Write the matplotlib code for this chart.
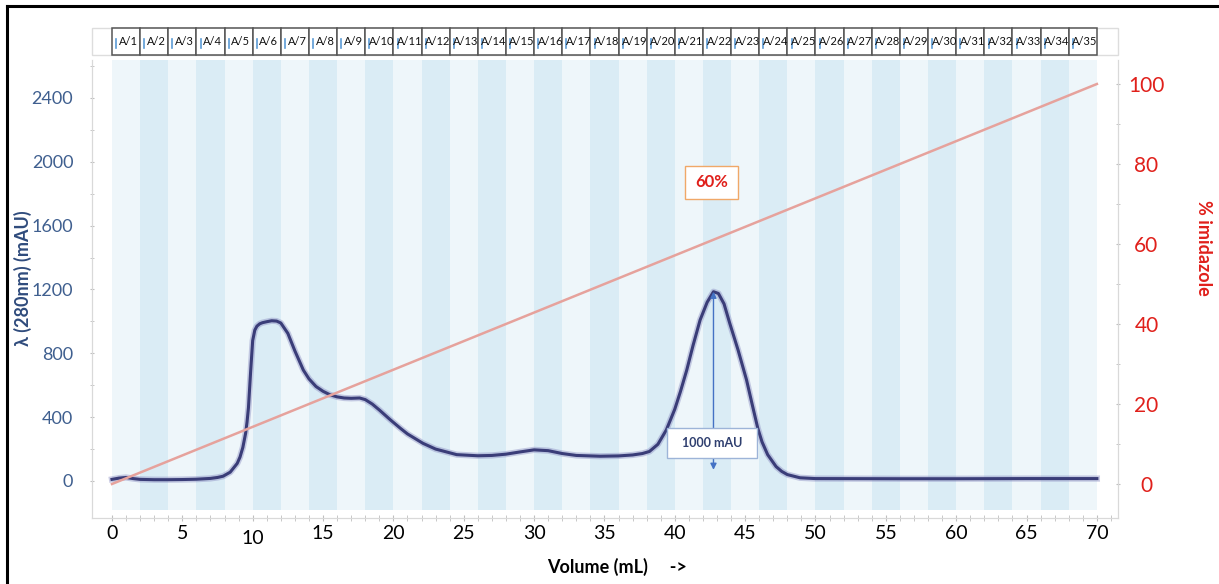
import matplotlib.pyplot as plt
import matplotlib.transforms as mtransforms
from matplotlib.patches import Rectangle
from matplotlib.lines import Line2D

plt.rcParams['font.family'] = ['Lato', 'DejaVu Sans']

# UV trace (mL, mAU)
volume = [0, 0.5, 1, 1.5, 2, 3, 4, 5, 6, 7, 7.5, 7.9, 8.4, 8.9, 9.1, 9.3, 9.5,
          9.6, 9.7, 9.85, 10, 10.15, 10.3, 10.5, 10.7, 11, 11.35, 11.7, 12,
          12.5, 13, 13.6, 14, 14.5, 15, 15.5, 16, 16.5, 17, 17.6, 18, 18.5, 19,
          19.8, 20.5, 21, 22.1, 23, 24.5, 26, 27, 28, 29, 30, 31, 32, 33, 34.7,
          36, 37, 37.7, 38.2, 38.8, 39.4, 40, 40.4, 40.85, 41.3, 41.8, 42.3,
          42.75, 43.1, 43.5, 43.9, 44.5, 45.1, 45.5, 45.9, 46.2, 46.6, 47.2,
          47.6, 48, 48.9, 50, 56, 60, 65, 70]
absorbance = [10, 18, 22, 15, 10, 8, 8, 9, 11, 16, 22, 30, 55, 110, 150, 210, 300,
              370, 460, 680, 880, 945, 970, 985, 992, 998, 1004, 1002, 990,
              925, 815, 695, 640, 592, 562, 540, 527, 520, 518, 520, 510, 482, 445,
              382, 330, 295, 236, 200, 165, 158, 160, 168, 182, 195, 190, 172, 160, 155,
              157, 163, 172, 185, 230, 320, 450, 560, 695, 850,
              1009, 1120, 1186, 1175, 1110, 990, 820, 633, 480, 330, 245, 165, 90,
              60, 40, 20, 15, 14, 14, 15, 15]

# imidazole gradient (mL, %)
grad_volume = [0, 70]
grad_percent = [0, 100]

fractions = [f'A/{i}' for i in range(1, 36)]
frac_width = 2

left_ticks = [0, 400, 800, 1200, 1600, 2000, 2400]
right_ticks = [0, 20, 40, 60, 80, 100]
x_ticks = list(range(0, 75, 5))

W, H = 1219, 584
fig = plt.figure(figsize=(W / 100, H / 100), dpi=100)
ax = fig.add_axes([92 / W, 66 / H, 1026 / W, 458 / H])
ax2 = ax.twinx()

ax.set_xlim(-1.42, 71.5)
ax.set_ylim(-232, 2638)
ax2.set_ylim(-8.5, 106)

# alternating fraction stripes
for i in range(len(fractions)):
    col = '#eef6fa' if i % 2 == 0 else '#daecf5'
    ax.axvspan(i * frac_width, (i + 1) * frac_width, ymin=0.017, ymax=1,
               color=col, lw=0, zorder=0)

ax.plot(volume, absorbance, color='#8d90c4', lw=4.5, alpha=0.45, zorder=3,
        solid_joinstyle='round')
ax.plot(volume, absorbance, color='#3a3d78', lw=2.2, zorder=4,
        solid_joinstyle='round')
ax2.plot(grad_volume, grad_percent, color='#e6a29c', lw=1.8, zorder=2)

# fraction header row
tr = mtransforms.blended_transform_factory(ax.transData, ax.transAxes)
ax.add_patch(Rectangle((0, 1.011), 1, 0.059, transform=ax.transAxes,
                       fc='white', ec='#dddddd', lw=1, clip_on=False))
for i, lab in enumerate(fractions):
    x0 = i * frac_width
    ax.add_patch(Rectangle((x0, 1.011), frac_width, 0.059, transform=tr,
                           fc='white', ec='#555555', lw=1.1, clip_on=False, zorder=5))
    ax.add_line(Line2D([x0 + 0.3, x0 + 0.3], [1.026, 1.046], transform=tr,
                       color='#5b9bd5', lw=1.2, clip_on=False, zorder=6))
    ax.text(x0 + 1.15, 1.0405, lab, transform=tr, ha='center', va='center',
            fontsize=8, color='#111111', clip_on=False, zorder=6)

# annotations
ax.annotate('', xy=(42.75, 1186), xytext=(42.75, 70),
            arrowprops=dict(arrowstyle='<|-|>', color='#4472c4', lw=1,
                            mutation_scale=9, shrinkA=0, shrinkB=0), zorder=5)
ax.add_patch(Rectangle((39.45, 144), 6.4, 188, fc='white', ec='#9db4d8',
                       lw=1, zorder=6))
ax.text(42.65, 238, '1000 mAU', ha='center', va='center', fontsize=9,
        fontweight='bold', color='#2f3f6f', zorder=7)
ax.add_patch(Rectangle((40.7, 1768), 3.8, 207, fc='white', ec='#f0a868',
                       lw=1, zorder=6))
ax.text(42.6, 1871, '60%', ha='center', va='center', fontsize=12,
        fontweight='bold', color='#e0201b', zorder=7)

# axes styling
for a in (ax, ax2):
    for s in a.spines.values():
        s.set_color('#d9d9d9')
    a.spines['top'].set_visible(False)

ax.set_xticks(x_ticks)
ax.set_xticks(range(0, 72), minor=True)
ax.set_yticks(left_ticks)
ax.set_yticks(range(0, 2601, 200), minor=True)
ax2.set_yticks(right_ticks)
ax2.set_yticks(range(0, 101, 10), minor=True)

ax.tick_params(axis='x', which='both', direction='inout', length=4,
               color='#bfbfbf', labelsize=14, labelcolor='black', pad=3)
ax.tick_params(axis='y', which='both', direction='inout', length=3,
               color='#bfbfbf', labelsize=13, labelcolor='#3f5f8f', pad=12)
ax2.tick_params(axis='y', which='both', direction='inout', length=3,
                color='#bfbfbf', labelsize=15, labelcolor='#e0201b', pad=19)
for t in ax2.get_yticklabels():
    t.set_horizontalalignment('center')

fig.canvas.draw()
for t in ax.get_xticklabels():
    if t.get_text() == '10':
        t.set_transform(t.get_transform() + mtransforms.ScaledTranslation(
            0, -4 / 72, fig.dpi_scale_trans))

ax.set_ylabel('λ (280nm) (mAU)', fontsize=13, fontweight='bold', color='#2f4b7c')
ax.yaxis.set_label_coords(-0.0585, 0.524)
ax2.set_ylabel('% imidazole', fontsize=13, fontweight='bold', color='#e0201b',
               rotation=270, va='center')
ax2.yaxis.set_label_coords(1.0838, 0.59)
ax.set_xlabel('Volume (mL)     ->', fontsize=13, fontweight='bold', color='black')
ax.xaxis.set_label_coords(0.512, -0.087)

# picture frame
fig.add_artist(Line2D([7 / W, 7 / W], [0, 1 - 6 / H], transform=fig.transFigure,
                      color='black', lw=2.2))
fig.add_artist(Line2D([7 / W, 1], [1 - 6 / H, 1 - 6 / H], transform=fig.transFigure,
                      color='black', lw=2.2))

fig.savefig('out.png', dpi=100)
